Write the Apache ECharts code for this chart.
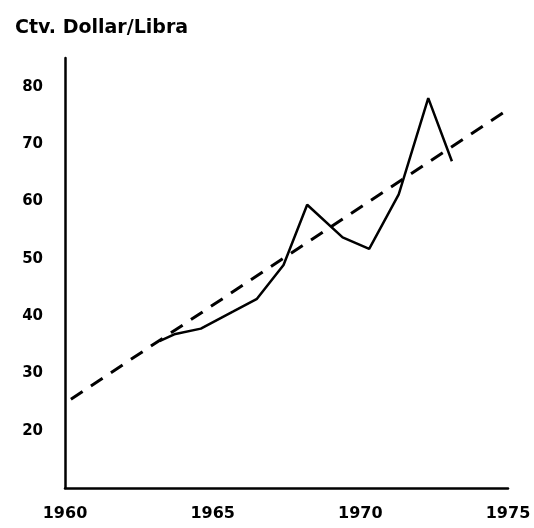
<!DOCTYPE html>
<html>
<head>
<meta charset="utf-8">
<script src="https://cdn.jsdelivr.net/npm/echarts@6/dist/echarts.min.js"></script>
<style>html,body{margin:0;padding:0;background:#fff}#c{width:534px;height:528px}</style>
</head>
<body>
<div id="c"></div>
<script>
var unitLabel = 'Ctv. Dollar/Libra';
var xTicks = [1960, 1965, 1970, 1975];
var yTicks = [20, 30, 40, 50, 60, 70, 80];
var priceYears = [1963.2, 1963.7, 1964.6, 1965.7, 1966.5, 1967.4, 1968.2, 1969.4, 1970.3, 1971.3, 1972.3, 1973.1];
var priceValues = [35.6, 36.8, 37.8, 40.8, 43.0, 48.9, 59.4, 53.7, 51.7, 61.2, 78.0, 67.0];
var trendYears = [1960.2, 1975];
var trendValues = [25.5, 76];

function pairs(xs, ys) { return xs.map(function (x, i) { return [x, ys[i]]; }); }

var chart = echarts.init(document.getElementById('c'));
var font = '"DejaVu Sans", sans-serif';
chart.setOption({
  animation: false,
  backgroundColor: '#fff',
  title: {
    text: unitLabel, left: 10, top: 14,
    textStyle: { fontFamily: font, fontSize: 19, fontWeight: 'bold', color: '#000' }
  },
  grid: { left: 65, right: 26, top: 58, bottom: 40 },
  xAxis: {
    type: 'value', min: 1960, max: 1975, interval: 5,
    axisLine: { lineStyle: { color: '#000', width: 2.5 } },
    axisTick: { show: false },
    splitLine: { show: false },
    axisLabel: {
      margin: 18, color: '#000', fontFamily: font, fontSize: 16, fontWeight: 'bold',
      formatter: function (v) { return xTicks.indexOf(v) >= 0 ? String(v) : ''; }
    }
  },
  yAxis: {
    type: 'value', min: 10, max: 85, interval: 10,
    axisLine: { show: true, lineStyle: { color: '#000', width: 2.5 } },
    axisTick: { show: false },
    splitLine: { show: false },
    axisLabel: {
      margin: 22, color: '#000', fontFamily: font, fontSize: 15, fontWeight: 'bold',
      showMaxLabel: false,
      formatter: function (v) { return yTicks.indexOf(v) >= 0 ? String(v) : ''; }
    }
  },
  series: [
    {
      type: 'line', data: pairs(priceYears, priceValues), showSymbol: false,
      lineStyle: { color: '#000', width: 2.5 }
    },
    {
      type: 'line', data: pairs(trendYears, trendValues), showSymbol: false,
      lineStyle: { color: '#000', width: 3, type: [14, 10] }
    }
  ]
});
</script>
</body>
</html>
